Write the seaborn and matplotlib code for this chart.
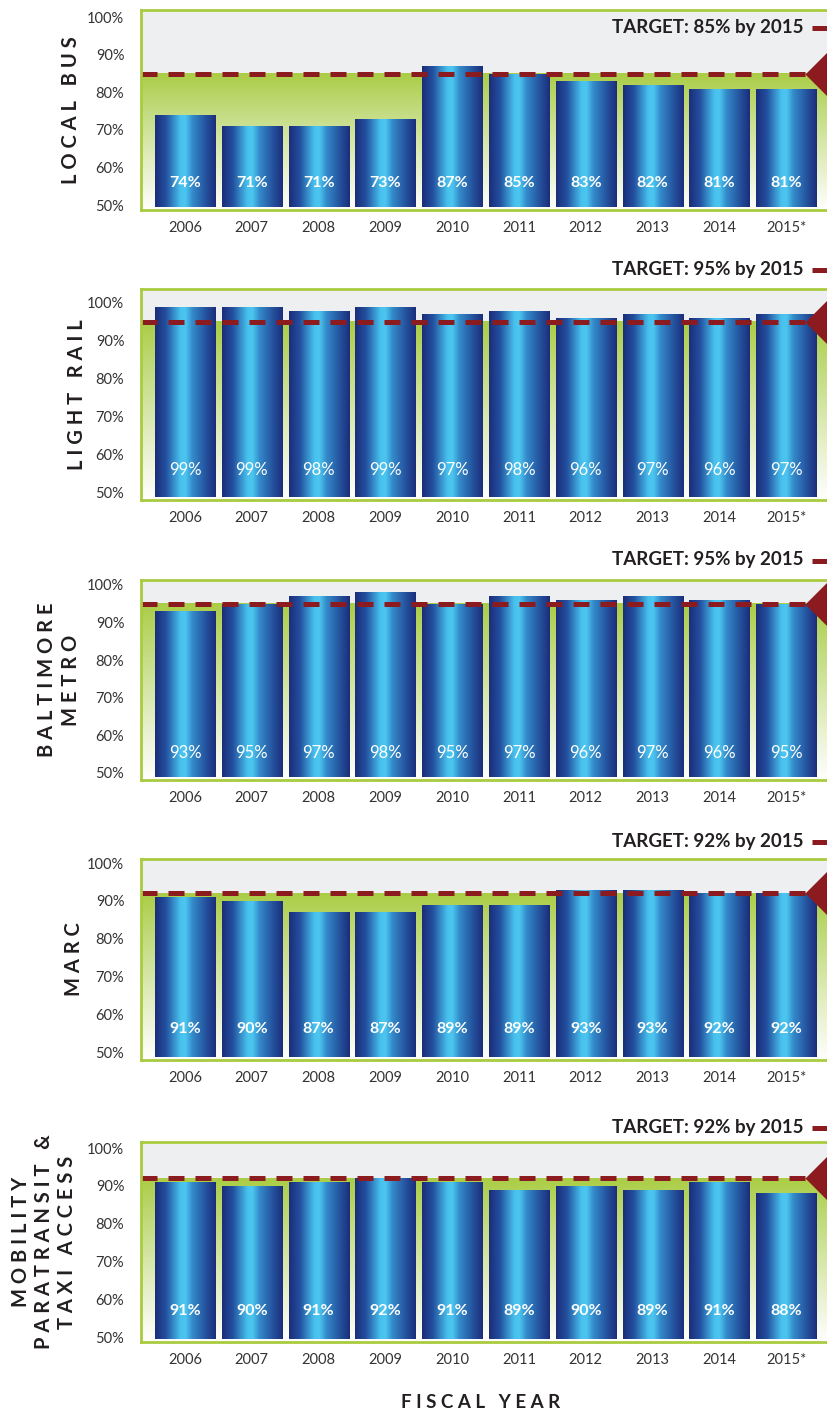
import numpy as np
import pandas as pd
import matplotlib
matplotlib.use("Agg")
import matplotlib.pyplot as plt
import matplotlib.transforms as mtransforms
from matplotlib.colors import LinearSegmentedColormap
from matplotlib.lines import Line2D
import seaborn as sns

# --- DATA ---
YEARS = ["2006", "2007", "2008", "2009", "2010", "2011", "2012", "2013", "2014", "2015*"]
LOCAL_BUS = [74, 71, 71, 73, 87, 85, 83, 82, 81, 81]
LIGHT_RAIL = [99, 99, 98, 99, 97, 98, 96, 97, 96, 97]
BALTIMORE_METRO = [93, 95, 97, 98, 95, 97, 96, 97, 96, 95]
MARC = [91, 90, 87, 87, 89, 89, 93, 93, 92, 92]
MOBILITY = [91, 90, 91, 92, 91, 89, 90, 89, 91, 88]
TARGETS = [85, 95, 95, 92, 92]
MODES = ["LOCAL BUS", "LIGHT RAIL", "BALTIMORE\nMETRO", "MARC",
         "MOBILITY\nPARATRANSIT &\nTAXI ACCESS"]
Y_TICKS = [50, 60, 70, 80, 90, 100]
SERIES = [LOCAL_BUS, LIGHT_RAIL, BALTIMORE_METRO, MARC, MOBILITY]

# --- LAYOUT (pixels on a 827x1414 canvas) ---
W, H = 827, 1414
FRAMES = [(10, 210), (289, 500), (580, 780), (859, 1060), (1142, 1342)]
YLIMS = [(48.7, 101.9), (47.9, 103.7), (48.1, 101.3), (47.9, 101.1), (48.7, 101.6)]
LABEL_Y = [55.9, 55.8, 55.3, 56.0, 57.0]
LABEL_WEIGHT = ["bold", "normal", "normal", "bold", "bold"]
TARGET_TEXT_Y = [27, 269, 560, 841, 1127]
TITLE_X = [71, 77, 59, 74, 44]
AX_LEFT, AX_RIGHT = 141, 845
XLIM = ((141 - 185) / 66.8, (845 - 185) / 66.8)
TIP_X = (805 - AX_LEFT) / (AX_RIGHT - AX_LEFT)

RED = "#8c1b1f"
GREEN = "#a9cb3e"
GRAY_BG = "#eeeff1"
TEXT = "#231f20"

sns.set_theme(style="white")
plt.rcParams['font.family'] = ['Lato', 'DejaVu Sans']

bar_cmap = LinearSegmentedColormap.from_list("bar", [
    (0.0, "#1b2d7a"), (0.18, "#23509f"), (0.42, "#48c2ee"), (0.5, "#4cc6f0"),
    (0.62, "#3389c9"), (0.85, "#244f9b"), (1.0, "#1b2d7a")])
bg_cmap = LinearSegmentedColormap.from_list("bg", [
    (0.0, "#ffffff"), (0.35, "#e3eec2"), (0.75, "#c0da7a"), (1.0, "#abcd45")])


def spaced(text):
    # imita o espaçamento largo entre letras dos títulos
    lines = []
    for line in text.split("\n"):
        words = [" ".join(list(w)) for w in line.split(" ")]
        lines.append("   ".join(words))
    return "\n".join(lines)


def draw_panel(fig, idx):
    top, bottom = FRAMES[idx]
    ax = fig.add_axes([AX_LEFT / W, 1 - bottom / H,
                       (AX_RIGHT - AX_LEFT) / W, (bottom - top) / H])
    values = SERIES[idx]
    target = TARGETS[idx]
    y0, y1 = YLIMS[idx]

    df = pd.DataFrame({"year": YEARS, "value": values})
    sns.barplot(data=df, x="year", y="value", ax=ax, order=YEARS,
                color="#1d3a8a", saturation=1, width=0.9)
    bars = list(ax.patches)

    # fundo: cinza acima da meta, degradê verde abaixo
    ax.axhspan(target, y1, color=GRAY_BG, zorder=0, lw=0)
    vgrad = np.linspace(0, 1, 256).reshape(-1, 1)
    ax.imshow(vgrad, extent=[XLIM[0], XLIM[1], y0, target], origin="lower",
              aspect="auto", cmap=bg_cmap, zorder=0.5)

    # barras com degradê horizontal
    hgrad = np.linspace(0, 1, 256).reshape(1, -1)
    base = y0 + 0.8
    for patch in bars:
        x0 = patch.get_x()
        x1 = x0 + patch.get_width()
        h = patch.get_height()
        patch.set_facecolor("none")
        patch.set_edgecolor("none")
        im = ax.imshow(hgrad, extent=[x0, x1, base, h], aspect="auto",
                       cmap=bar_cmap, zorder=2, interpolation="bicubic")
        im.set_clip_path(patch)
        ax.text(x0 + patch.get_width() / 2, LABEL_Y[idx], f"{h:.0f}%",
                ha="center", va="center", color="white", zorder=3,
                fontsize=11.5 if LABEL_WEIGHT[idx] == "bold" else 12,
                fontweight=LABEL_WEIGHT[idx])

    ax.set_xlim(*XLIM)
    ax.set_ylim(y0, y1)

    # linha da meta + triângulo
    trans = mtransforms.blended_transform_factory(ax.transAxes, ax.transData)
    ax.plot([0, TIP_X], [target, target], transform=trans, color=RED, lw=3.6,
            ls=(0, (3.2, 2.2)), solid_capstyle="butt", dash_capstyle="butt",
            zorder=3.5)
    ax.plot([TIP_X], [target], transform=trans, color=RED,
            marker=[(0, 0), (1, 1), (1, -1), (0, 0)], ms=44, mew=0,
            zorder=4, clip_on=False)

    ax.set_yticks(Y_TICKS)
    ax.set_yticklabels([f"{t}%" for t in Y_TICKS])
    ax.tick_params(axis="y", length=0, pad=12, labelsize=10.5, labelcolor="#333333")
    ax.tick_params(axis="x", length=0, pad=8, labelsize=10.5, labelcolor="#333333")
    ax.set_xlabel("")
    ax.set_ylabel("")
    for side in ["left", "right", "top", "bottom"]:
        ax.spines[side].set_visible(True)
        ax.spines[side].set_color(GREEN)
        ax.spines[side].set_linewidth(2.0)
        ax.spines[side].set_zorder(5)

    # texto da meta
    ty = 1 - TARGET_TEXT_Y[idx] / H
    fig.text(803 / W, ty, f"TARGET: {target}% by 2015", ha="right", va="center",
             fontsize=13.5, fontweight="bold", color=TEXT)
    fig.add_artist(Line2D([812 / W, 1.0], [ty - 0.0005, ty - 0.0005],
                          color=RED, lw=3.6, solid_capstyle="butt"))

    # título do modo
    fig.text(TITLE_X[idx] / W, 1 - (top + bottom) / 2 / H, spaced(MODES[idx]),
             rotation=90, ha="center", va="center", multialignment="center",
             fontsize=14.5, fontweight="bold", color=TEXT, linespacing=1.2)
    return ax


fig = plt.figure(figsize=(W / 100, H / 100), dpi=100)
for i in range(len(SERIES)):
    draw_panel(fig, i)

fig.text(481 / W, 1 - 1403 / H, spaced("FISCAL YEAR"), ha="center", va="center",
         fontsize=13.5, fontweight="bold", color=TEXT)

fig.savefig("out.png", dpi=100)
